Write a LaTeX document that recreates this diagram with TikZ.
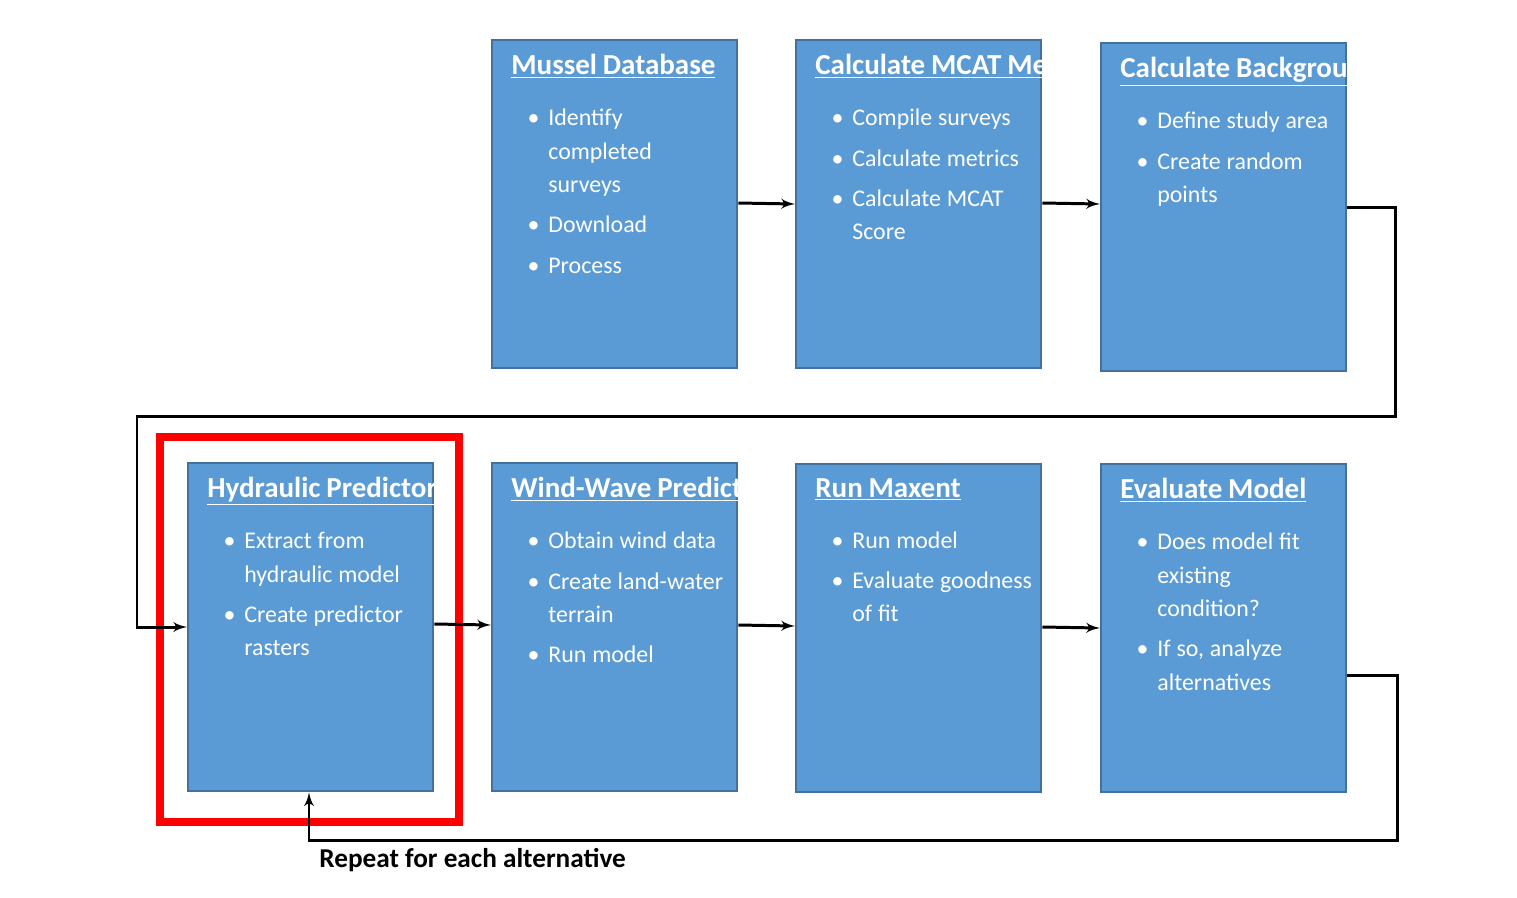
\documentclass[tikz,border=0pt]{standalone}
\usepackage{fontspec}
\setmainfont{Carlito}
\usepackage{tikz}
\usepackage{color}
\usetikzlibrary{arrows,positioning}

\definecolor{boxfill}{HTML}{5B9BD5}
\definecolor{boxline}{HTML}{41719C}

\setlength{\leftmargini}{0.74cm}
\newcommand{\steptext}[2]{{\fontsize{16.5}{22.5}\selectfont\bfseries\underline{#1}\par}%
  {\fontsize{13.6}{19}\selectfont\begin{itemize}\setlength{\itemsep}{0pt}\setlength{\parsep}{0pt}\setlength{\topsep}{0pt}#2\end{itemize}}}

\tikzset{
  stepbox/.style={draw=boxline, line width=1.4pt, fill=boxfill, minimum width=4.9cm, minimum height=6.56cm, inner sep=0pt},
  steplabel/.style={anchor=north west, text width=4.35cm, text=white, inner sep=0pt, align=left},
  flow/.style={line width=1.7pt, -latex'}
}

\begin{document}
\begin{tikzpicture}[x=0.02cm, y=-0.02cm]
\useasboundingbox (0,0) rectangle (1517,897);

% Drawing top row
\node[stepbox, anchor=north west] (mussel) at (491,39) {};
\node[stepbox, anchor=north west] (mcat) at (795,39) {};
\node[stepbox, anchor=north west] (back) at (1100,42) {};

% Drawing bottom row
\node[stepbox, anchor=north west] (hydro) at (187,462) {};
\node[stepbox, anchor=north west] (wind) at (491,462) {};
\node[stepbox, anchor=north west] (maxent) at (795,463) {};
\node[stepbox, anchor=north west] (eval) at (1100,463) {};

% Drawing texts
\node[steplabel] (musseltxt) at (511,54) {\steptext{Mussel Database}{\item Identify completed surveys \item Download \item Process}};
\node[steplabel] (mcattxt) at (815,54) {\steptext{Calculate MCAT Metrics}{\item Compile surveys \item Calculate metrics \item Calculate MCAT Score}};
\node[steplabel] (backtxt) at (1120,57) {\steptext{Calculate Background}{\item Define study area \item Create random points}};
\node[steplabel, text width=4.2cm] (hydrotxt) at (207,477) {\steptext{Hydraulic Predictors}{\item Extract from hydraulic model \item Create predictor rasters}};
\node[steplabel] (windtxt) at (511,477) {\steptext{Wind-Wave Predictors}{\item Obtain wind data \item Create land-water terrain \item Run model}};
\node[steplabel] (maxenttxt) at (815,478) {\steptext{Run Maxent}{\item Run model \item Evaluate goodness of fit}};
\node[steplabel] (evaltxt) at (1120,478) {\steptext{Evaluate Model}{\item Does model fit existing condition? \item If so, analyze alternatives}};

% Drawing highlight
\draw[red, line width=4.5pt] (160,437) rectangle (459,822);

% Drawing connectors
\coordinate (a1) at (1395,207);
\coordinate (a2) at (1395,416);
\coordinate (a3) at (137,416);
\coordinate (a4) at (137,627);
\coordinate (b1) at (1397,675);
\coordinate (b2) at (1397,840);
\coordinate (b3) at (309,840);
\draw[flow] (mussel.east |- 0,203) -- (mcat.west |- 0,204);
\draw[flow] (mcat.east |- 0,203) -- (back.west |- 0,204);
\draw[flow] (hydro.east |- 0,624) -- (wind.west |- 0,625);
\draw[flow] (wind.east |- 0,625) -- (maxent.west |- 0,626);
\draw[flow] (maxent.east |- 0,627) -- (eval.west |- 0,628);
\draw[flow] (back.east |- a1) -- (a1) -- (a2) -- (a3) -- (a4) -- (hydro.west |- a4);
\draw[flow] (eval.east |- b1) -- (b1) -- (b2) -- (b3) -- (b3 |- hydro.south);

% Drawing note
\node[anchor=west, font=\fontsize{15.5}{18}\selectfont\bfseries, inner sep=0pt] (note) at (319,860) {Repeat for each alternative};
\end{tikzpicture}
\end{document}
